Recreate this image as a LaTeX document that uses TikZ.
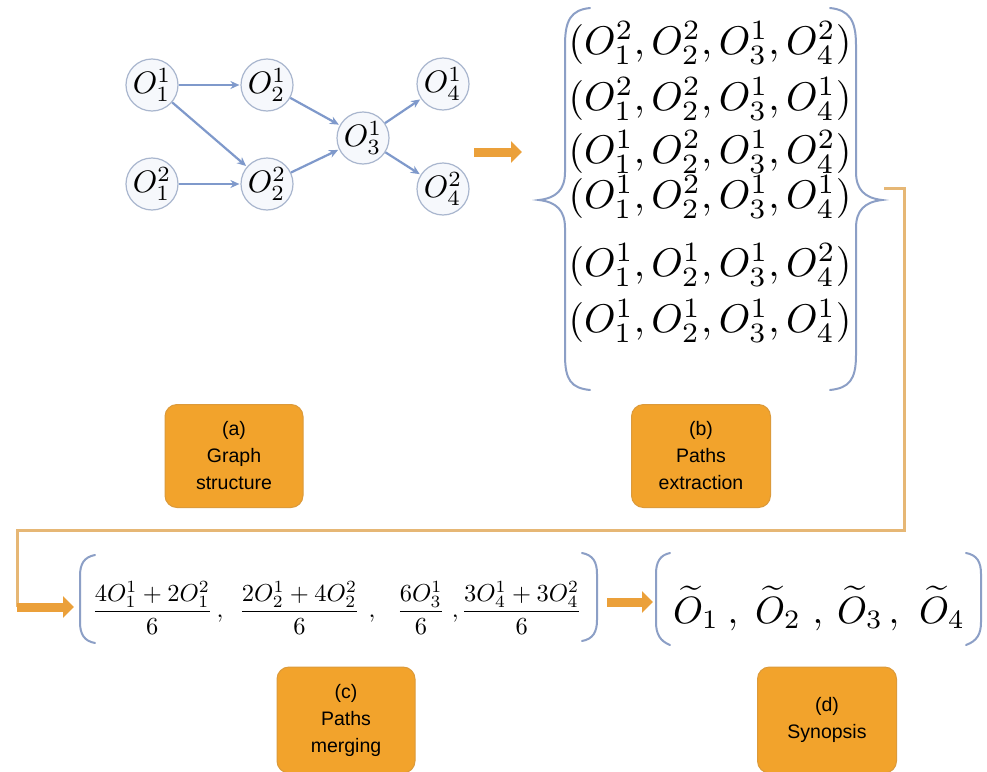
\documentclass[tikz,border=0pt]{standalone}
\usepackage{graphicx}
\usepackage{fontspec}
\setsansfont{Liberation Sans}
\usetikzlibrary{arrows.meta}
\definecolor{edgeblue}{HTML}{7F99CB}
\definecolor{nodeline}{HTML}{A9B6CE}
\definecolor{nodefill}{HTML}{F6F8FC}
\definecolor{bracecol}{HTML}{8C9FC6}
\definecolor{boxorange}{HTML}{F2A32C}
\definecolor{boxedge}{HTML}{DC9A3A}
\definecolor{arroworange}{HTML}{EBA03A}
\definecolor{lineorange}{HTML}{E6B775}
\newcommand\gmath[1]{\scalebox{3.1}{$#1$}}
\newcommand\rowmath[1]{\scalebox{4}{$#1$}}
\tikzset{
  gnode/.style={circle, draw=nodeline, fill=nodefill, minimum size=52pt, inner sep=0pt, line width=1.2pt},
  gedge/.style={-{Stealth[length=9pt,width=8pt]}, draw=edgeblue, line width=2.2pt, shorten >=1pt},
  rowtxt/.style={inner sep=0pt},
  bracepath/.style={draw=bracecol, line width=2pt, line cap=round},
  labelbox/.style={rounded corners=12pt, fill=boxorange, draw=boxedge, line width=1pt, align=center, inner sep=0pt, font=\sffamily\fontsize{19.5}{27}\selectfont},
  blockarrow/.style={draw=arroworange, line width=9pt, -{Triangle[length=11pt,width=21pt]}},
  thinorange/.style={draw=lineorange, line width=3pt}
}
\begin{document}
\begin{tikzpicture}[x=1pt,y=-1pt]
\useasboundingbox (0,0) rectangle (987,771);
\fill[white] (0,0) rectangle (987,771);

% (a) graph
\node[gnode] (o11) at (152,85) {\gmath{O_1^1}};
\node[gnode] (o12) at (267,85) {\gmath{O_2^1}};
\node[gnode] (o21) at (152,184) {\gmath{O_1^2}};
\node[gnode] (o22) at (267,184) {\gmath{O_2^2}};
\node[gnode] (o3) at (363,138) {\gmath{O_3^1}};
\node[gnode] (o41) at (443,84) {\gmath{O_4^1}};
\node[gnode] (o42) at (443,189) {\gmath{O_4^2}};
\draw[gedge] (o11) -- (o12);
\draw[gedge] (o11) -- (o22);
\draw[gedge] (o21) -- (o22);
\draw[gedge] (o12) -- (o3);
\draw[gedge] (o22) -- (o3);
\draw[gedge] (o3) -- (o41);
\draw[gedge] (o3) -- (o42);

\coordinate (a1) at (474,152);
\coordinate (a2) at (522,152);
\draw[blockarrow] (a1) -- (a2);

% (b) path list
\node[rowtxt] (r1) at (710,43) {\rowmath{(O_1^2,O_2^2,O_3^1,O_4^2)}};
\node[rowtxt] (r2) at (710,99) {\rowmath{(O_1^2,O_2^2,O_3^1,O_4^1)}};
\node[rowtxt] (r3) at (710,152) {\rowmath{(O_1^1,O_2^2,O_3^1,O_4^2)}};
\node[rowtxt] (r4) at (710,197) {\rowmath{(O_1^1,O_2^2,O_3^1,O_4^1)}};
\node[rowtxt] (r5) at (710,265) {\rowmath{(O_1^1,O_2^1,O_3^1,O_4^2)}};
\node[rowtxt] (r6) at (710,321) {\rowmath{(O_1^1,O_2^1,O_3^1,O_4^1)}};

\draw[bracepath] (590,8) .. controls (571,10) and (565,20) .. (565,45) -- (565,172)
  .. controls (565,190) and (556,198) .. (539,200)
  .. controls (556,202) and (565,210) .. (565,228) -- (565,355)
  .. controls (565,380) and (571,388) .. (590,390);
\draw[bracepath] (830,8) .. controls (849,10) and (856,20) .. (856,45) -- (856,172)
  .. controls (856,190) and (865,198) .. (882,200)
  .. controls (865,202) and (856,210) .. (856,228) -- (856,355)
  .. controls (856,380) and (849,388) .. (830,390);

% connector (b) -> (c)
\coordinate (c0) at (884,188);
\coordinate (c1) at (904,188);
\coordinate (c2) at (904,530);
\coordinate (c3) at (17,530);
\coordinate (c4) at (17,607);
\coordinate (c5) at (74,607);
\draw[thinorange] (c0) -- (c1) -- (c2) -- (c3) -- (c4);
\draw[blockarrow, line cap=butt] (c4) -- (c5);

% labels (a), (b)
\node[labelbox, minimum width=138pt, minimum height=103pt] (la) at (234,456) {(a)\\Graph\\structure};
\node[labelbox, minimum width=139pt, minimum height=103pt] (lb) at (701,456) {(b)\\Paths\\extraction};

% (c) merging
\node[inner sep=0pt] (merge) at (337,608)
  {\scalebox{2.45}{$\displaystyle\frac{4O_1^1+2O_1^2}{6}\hspace{1.5pt},\hspace{4.7pt}\frac{2O_2^1+4O_2^2}{6}\hspace{3.5pt},\hspace{7.1pt}\frac{6O_3^1}{6}\hspace{2.7pt},\hspace{-0.7pt}\frac{3O_4^1+3O_4^2}{6}$}};
\draw[bracepath] (95,555) .. controls (84,557) and (80,564) .. (80,576) -- (80,622)
  .. controls (80,634) and (84,641) .. (95,643);
\draw[bracepath] (582,553) .. controls (593,555) and (597,562) .. (597,574) -- (597,620)
  .. controls (597,632) and (593,639) .. (582,641);

\coordinate (d1) at (607,602);
\coordinate (d2) at (653,602);
\draw[blockarrow] (d1) -- (d2);

% (d) synopsis
\node[inner sep=0pt, anchor=base west] (s1) at (673,623) {\scalebox{3.8}{$\widetilde{O}_1$}};
\node[inner sep=0pt, anchor=base] (k1) at (733,623) {\scalebox{3.8}{$,$}};
\node[inner sep=0pt, anchor=base west] (s2) at (755,623) {\scalebox{3.8}{$\widetilde{O}_2$}};
\node[inner sep=0pt, anchor=base] (k2) at (818,623) {\scalebox{3.8}{$,$}};
\node[inner sep=0pt, anchor=base west] (s3) at (837,623) {\scalebox{3.8}{$\widetilde{O}_3$}};
\node[inner sep=0pt, anchor=base] (k3) at (894,623) {\scalebox{3.8}{$,$}};
\node[inner sep=0pt, anchor=base west] (s4) at (919,623) {\scalebox{3.8}{$\widetilde{O}_4$}};
\draw[bracepath] (670,553) .. controls (660,555) and (656,562) .. (656,574) -- (656,622)
  .. controls (656,634) and (660,641) .. (670,645);
\draw[bracepath] (966,553) .. controls (977,555) and (981,562) .. (981,574) -- (981,622)
  .. controls (981,634) and (977,641) .. (966,645);

\node[labelbox, minimum width=138pt, minimum height=106pt] (lc) at (346,720) {(c)\\Paths\\merging};
\node[labelbox, minimum width=139pt, minimum height=106pt] (ld) at (827,720) {(d)\\Synopsis};
\end{tikzpicture}
\end{document}
